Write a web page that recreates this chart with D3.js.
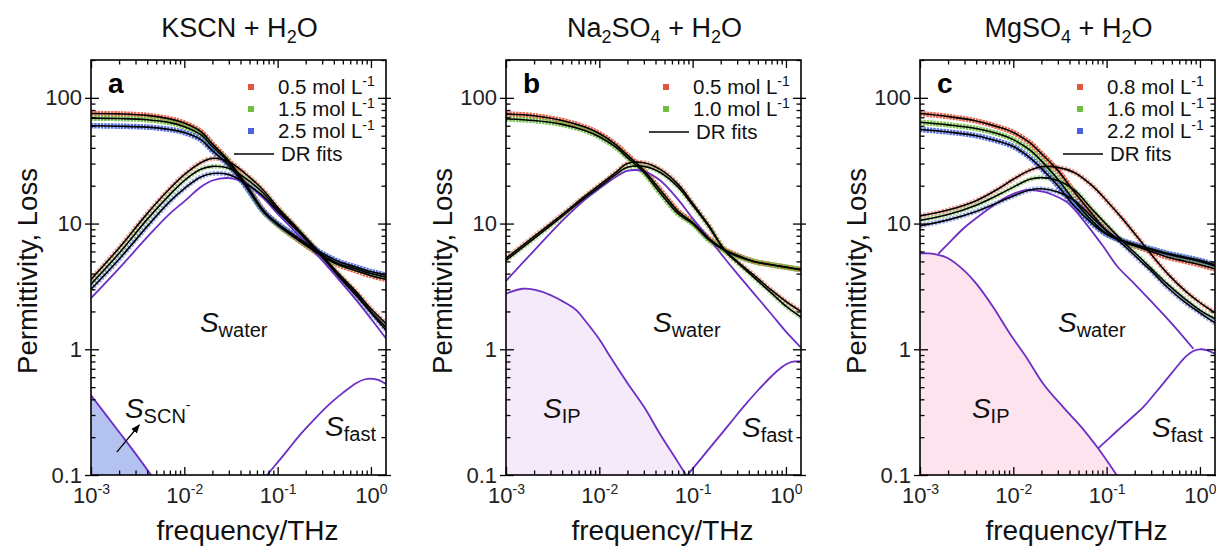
<!DOCTYPE html>
<html><head><meta charset="utf-8">
<script src="https://cdn.jsdelivr.net/npm/d3@7"></script>
<style>
body{margin:0;background:#fff;}
svg{display:block;font-family:"Liberation Sans",Arial,Helvetica,sans-serif;}
</style></head><body>
<svg id="c" width="1216" height="547"></svg>
<script>
// ---------------- DATA ----------------
const freq = [0.001, 0.002, 0.004, 0.007, 0.01, 0.015, 0.02, 0.03, 0.045, 0.07, 0.1, 0.15, 0.22, 0.3, 0.45, 0.7, 1.0, 1.45];

// (a) KSCN + H2O
const kscnLabels = ["0.5 mol L", "1.5 mol L", "2.5 mol L"];
const kscnPerm05 = [75, 74.5, 72.5, 68, 63, 54, 43, 31.5, 21, 12.8, 9.8, 7.8, 6.4, 5.5, 4.7, 4.2, 3.85, 3.6];
const kscnPerm15 = [69, 68.5, 67, 63.5, 59, 51, 41, 30.5, 20.5, 12.5, 9.8, 7.9, 6.5, 5.6, 4.8, 4.35, 4.0, 3.75];
const kscnPerm25 = [60, 59.5, 58.5, 56, 53, 46.5, 38, 29, 20, 12.6, 10, 8.1, 6.7, 5.8, 5.0, 4.5, 4.15, 3.9];
const kscnLoss05 = [3.6, 6.4, 12, 19, 24.5, 30.5, 33, 31, 25, 18.5, 13.5, 9.8, 7.2, 5.6, 4.0, 2.85, 2.1, 1.6];
const kscnLoss15 = [3.3, 5.8, 10.8, 17, 22, 27, 28.5, 27.5, 23, 17.5, 13, 9.6, 7.1, 5.5, 3.9, 2.75, 2.0, 1.5];
const kscnLoss25 = [3.0, 5.2, 9.5, 15, 19, 23.5, 25, 24.5, 21, 16.5, 12.5, 9.3, 6.9, 5.4, 3.8, 2.65, 1.95, 1.42];
const kscnWater = [2.55, 4.4, 7.8, 12, 15, 19.5, 22, 23, 21, 16, 12, 8.8, 6.5, 5.1, 3.6, 2.45, 1.75, 1.22];
const kscnScnFreq = [0.001, 0.002, 0.003, 0.0044];
const kscnScnVals = [0.43, 0.22, 0.148, 0.1];
const kscnFastFreq = [0.077, 0.1, 0.13, 0.18, 0.25, 0.35, 0.5, 0.7, 0.85, 1.0, 1.2, 1.45];
const kscnFastVals = [0.1, 0.126, 0.16, 0.215, 0.28, 0.36, 0.45, 0.54, 0.575, 0.585, 0.57, 0.53];

// (b) Na2SO4 + H2O
const naLabels = ["0.5 mol L", "1.0 mol L"];
const naPerm05 = [74.5, 72, 66, 58.5, 52, 42.5, 35, 26.5, 18.5, 12.5, 10.2, 7.6, 6.2, 5.6, 5.0, 4.7, 4.5, 4.3];
const naPerm10 = [68, 66, 61.5, 55, 49, 40.5, 33.5, 25.5, 17.5, 12, 10, 7.4, 6.1, 5.5, 5.0, 4.7, 4.5, 4.3];
const naLoss05 = [5.3, 7.9, 11.8, 16.5, 20.2, 25.5, 30, 30.5, 27, 20.5, 14.5, 9.6, 6.2, 5.0, 3.9, 2.95, 2.4, 2.0];
const naLoss10 = [5.1, 7.6, 11.4, 16, 19.5, 24.5, 28, 28.5, 25.5, 19.5, 14, 9.4, 6.1, 4.9, 3.75, 2.8, 2.2, 1.8];
const naWater = [3.5, 6.1, 10.5, 15.5, 19, 23.5, 26.3, 26, 22, 15.5, 11, 7.6, 5.3, 4.0, 2.8, 1.9, 1.38, 1.03];
const naIPFreq = [0.001, 0.0015, 0.002, 0.003, 0.0045, 0.0057, 0.007, 0.01, 0.013, 0.02, 0.03, 0.045, 0.065, 0.085];
const naIPVals = [2.77, 3.03, 2.98, 2.7, 2.3, 2.04, 1.7, 1.2, 0.88, 0.54, 0.35, 0.21, 0.137, 0.1];
const naFastFreq = [0.088, 0.12, 0.17, 0.25, 0.35, 0.5, 0.7, 0.9, 1.1, 1.25, 1.45];
const naFastVals = [0.1, 0.132, 0.181, 0.256, 0.348, 0.47, 0.61, 0.72, 0.785, 0.8, 0.8];

// (c) MgSO4 + H2O
const mgLabels = ["0.8 mol L", "1.6 mol L", "2.2 mol L"];
const mgPerm08 = [75, 71, 65.5, 58.5, 53, 44, 36, 26.5, 17.8, 11.9, 8.8, 7.2, 6.5, 6.0, 5.4, 5.0, 4.7, 4.35];
const mgPerm16 = [64, 61, 57, 51.5, 46.5, 38.5, 31.5, 22.5, 15.2, 10.5, 8.3, 7.2, 6.6, 6.2, 5.7, 5.3, 5.0, 4.6];
const mgPerm22 = [56, 53.5, 50, 45, 41, 33.5, 27.5, 20, 13.8, 10, 8.2, 7.3, 6.7, 6.3, 5.8, 5.4, 5.1, 4.7];
const mgLoss08 = [11.5, 12.8, 15.2, 19, 22.5, 26.5, 28.3, 28, 25.5, 20, 15.2, 10.8, 7.6, 5.7, 4.0, 2.9, 2.35, 1.95];
const mgLoss16 = [10.6, 11.8, 14, 17, 19.5, 22.5, 23.2, 22, 18.5, 13, 9.8, 7.2, 5.5, 4.4, 3.3, 2.5, 2.05, 1.75];
const mgLoss22 = [9.6, 10.7, 12.5, 14.8, 16.6, 18.5, 18.9, 17.8, 15.3, 11.2, 8.7, 6.8, 5.2, 4.2, 3.1, 2.35, 1.95, 1.62];
const mgWaterFreq = [0.00157, 0.002, 0.003, 0.005, 0.0073, 0.01, 0.014, 0.02, 0.025, 0.0375, 0.06, 0.093, 0.129, 0.2, 0.294, 0.5, 0.85];
const mgWaterVals = [5.75, 6.9, 9.3, 12.5, 15.2, 17.2, 18.5, 18, 17.2, 14.8, 10, 6.5, 4.6, 3.3, 2.45, 1.6, 1.01];
const mgIPFreq = [0.001, 0.0012, 0.0014, 0.002, 0.003, 0.00405, 0.006, 0.0092, 0.014, 0.021, 0.035, 0.055, 0.081, 0.128];
const mgIPVals = [5.8, 5.8, 5.75, 5.3, 4.2, 3.3, 2.2, 1.33, 0.85, 0.53, 0.34, 0.235, 0.163, 0.1];
const mgFastFreq = [0.081, 0.12, 0.17, 0.248, 0.35, 0.45, 0.56, 0.7, 0.85, 1.0, 1.2, 1.45];
const mgFastVals = [0.163, 0.213, 0.269, 0.348, 0.47, 0.59, 0.72, 0.87, 0.97, 1.0, 0.98, 0.92];

// axes
const xDomain = [0.001, 1.45];
const yDomain = [0.1, 200];
const xMajor = [0.001, 0.01, 0.1, 1];
const xMajorExp = ["-3", "-2", "-1", "0"];
const xMinor = [0.002,0.003,0.004,0.005,0.006,0.007,0.008,0.009,0.02,0.03,0.04,0.05,0.06,0.07,0.08,0.09,0.2,0.3,0.4,0.5,0.6,0.7,0.8,0.9];
const yMajor = [0.1, 1, 10, 100];
const yMajorLabels = ["0.1", "1", "10", "100"];
const yMinor = [0.2,0.3,0.4,0.5,0.6,0.7,0.8,0.9,2,3,4,5,6,7,8,9,20,30,40,50,60,70,80,90,200];

// annotation anchors (frequency, value) for component labels
const annoFreqA = [0.0147, 0.00231, 0.322];
const annoValA = [1.37, 0.284, 0.204];
const annoFreqB = [0.0376, 0.00249, 0.338];
const annoValB = [1.37, 0.284, 0.2];
const annoFreqC = [0.0301, 0.0036, 0.306];
const annoValC = [1.37, 0.284, 0.2];
const arrowFreq = [0.00189, 0.00329];
const arrowVal = [0.152, 0.25];

// ---------------- STYLE / LAYOUT ----------------
const RED = "#e2553b", GREEN = "#70bf45", BLUE = "#4a64d8", PURPLE = "#6d2ec6", BLACK = "#000";
const TOP = 60, PW = 295, PH = 415;
const svg = d3.select("#c");
const defs = svg.append("defs");
defs.append("marker").attr("id","arrowhead").attr("viewBox","0 0 10 10").attr("refX",9).attr("refY",5)
  .attr("markerWidth",7).attr("markerHeight",7).attr("orient","auto")
  .append("path").attr("d","M0,1 L10,5 L0,9 Z").attr("fill","#000");

const panels = [
  { left: 91, letter: "a", title: [["KSCN + H",0],["2",1],["O",0]],
    series: [
      {perm: kscnPerm05, loss: kscnLoss05, color: RED, label: kscnLabels[0]},
      {perm: kscnPerm15, loss: kscnLoss15, color: GREEN, label: kscnLabels[1]},
      {perm: kscnPerm25, loss: kscnLoss25, color: BLUE, label: kscnLabels[2]}],
    fills: [{f: kscnScnFreq, v: kscnScnVals, fill: "#b4c2f2"}],
    comps: [{f: freq, v: kscnWater}, {f: kscnFastFreq, v: kscnFastVals}, {f: kscnScnFreq, v: kscnScnVals}],
    anno: [{s:"water"}, {s:"SCN", sup:"-"}, {s:"fast"}], annoF: annoFreqA, annoV: annoValA, arrow: true },
  { left: 506, letter: "b", title: [["Na",0],["2",1],["SO",0],["4",1],[" + H",0],["2",1],["O",0]],
    series: [
      {perm: naPerm05, loss: naLoss05, color: RED, label: naLabels[0]},
      {perm: naPerm10, loss: naLoss10, color: GREEN, label: naLabels[1]}],
    fills: [{f: naIPFreq, v: naIPVals, fill: "#f5eafa"}],
    comps: [{f: freq, v: naWater}, {f: naFastFreq, v: naFastVals}, {f: naIPFreq, v: naIPVals}],
    anno: [{s:"water"}, {s:"IP"}, {s:"fast"}], annoF: annoFreqB, annoV: annoValB, arrow: false },
  { left: 920, letter: "c", title: [["MgSO",0],["4",1],[" + H",0],["2",1],["O",0]],
    series: [
      {perm: mgPerm08, loss: mgLoss08, color: RED, label: mgLabels[0]},
      {perm: mgPerm16, loss: mgLoss16, color: GREEN, label: mgLabels[1]},
      {perm: mgPerm22, loss: mgLoss22, color: BLUE, label: mgLabels[2]}],
    fills: [{f: mgIPFreq, v: mgIPVals, fill: "#fce3ee"}],
    comps: [{f: mgWaterFreq, v: mgWaterVals}, {f: mgFastFreq, v: mgFastVals}, {f: mgIPFreq, v: mgIPVals}],
    anno: [{s:"water"}, {s:"IP"}, {s:"fast"}], annoF: annoFreqC, annoV: annoValC, arrow: false }
];

panels.forEach(drawPanel);

function drawPanel(p) {
  const x = d3.scaleLog().domain(xDomain).range([0, PW]);
  const y = d3.scaleLog().domain(yDomain).range([PH, 0]);
  const g = svg.append("g").attr("transform", `translate(${p.left},${TOP})`);
  const clipId = "clip-" + p.letter;
  defs.append("clipPath").attr("id", clipId).append("rect").attr("width", PW).attr("height", PH);
  const plot = g.append("g").attr("clip-path", `url(#${clipId})`);

  const curve = d3.curveCatmullRom.alpha(0.5);
  const line = d3.line().x(d => x(d[0])).y(d => y(d[1])).curve(curve);
  const area = d3.area().x(d => x(d[0])).y0(PH).y1(d => y(d[1])).curve(curve);

  p.fills.forEach(c => plot.append("path").datum(d3.zip(c.f, c.v)).attr("d", area).attr("fill", c.fill));

  // measured data (thick coloured bands)
  p.series.forEach(s => {
    plot.append("path").datum(d3.zip(freq, s.loss)).attr("d", line).attr("fill", "none")
      .attr("stroke", s.color).attr("stroke-width", 5).attr("stroke-opacity", 0.55).attr("stroke-dasharray", "2.5 1.2");
    plot.append("path").datum(d3.zip(freq, s.perm)).attr("d", line).attr("fill", "none")
      .attr("stroke", s.color).attr("stroke-width", 5.5).attr("stroke-opacity", 0.9).attr("stroke-dasharray", "2.5 0.8");
  });
  // component curves
  p.comps.forEach(c => plot.append("path").datum(d3.zip(c.f, c.v)).attr("d", line).attr("fill", "none")
    .attr("stroke", PURPLE).attr("stroke-width", 1.8));
  // DR fits
  p.series.forEach(s => {
    [s.perm, s.loss].forEach(arr => plot.append("path").datum(d3.zip(freq, arr)).attr("d", line)
      .attr("fill", "none").attr("stroke", BLACK).attr("stroke-width", 1.6));
  });

  // frame + ticks
  g.append("rect").attr("width", PW).attr("height", PH).attr("fill", "none").attr("stroke", "#000").attr("stroke-width", 1.6);
  const ax = (gen, tr, vals, size) => {
    g.append("g").attr("transform", tr).call(gen.tickValues(vals).tickSize(size).tickFormat(""))
      .call(s => s.select(".domain").remove())
      .selectAll("line").attr("stroke", "#000").attr("stroke-width", 1.3);
  };
  ax(d3.axisBottom(x), `translate(0,${PH})`, xMajor, -8);
  ax(d3.axisBottom(x), `translate(0,${PH})`, xMinor, -4.5);
  ax(d3.axisTop(x), `translate(0,0)`, xMajor, -8);
  ax(d3.axisTop(x), `translate(0,0)`, xMinor, -4.5);
  ax(d3.axisLeft(y), `translate(0,0)`, yMajor, -8);
  ax(d3.axisLeft(y), `translate(0,0)`, yMajor, 6);
  ax(d3.axisLeft(y), `translate(0,0)`, yMinor, -4.5);
  ax(d3.axisRight(y), `translate(${PW},0)`, yMajor, -8);
  ax(d3.axisRight(y), `translate(${PW},0)`, yMajor, 5);
  ax(d3.axisRight(y), `translate(${PW},0)`, yMinor, -4.5);

  // y tick labels
  g.append("g").call(d3.axisLeft(y).tickValues(yMajor).tickSize(0).tickPadding(9)
      .tickFormat((d, i) => yMajorLabels[i]))
    .call(s => s.select(".domain").remove())
    .attr("font-size", 22).attr("font-family", null)
    .selectAll("text").attr("fill", "#222");
  // x tick labels
  g.append("g").attr("transform", `translate(0,${PH})`)
    .call(d3.axisBottom(x).tickValues(xMajor).tickSize(0).tickPadding(12).tickFormat(""))
    .call(s => s.select(".domain").remove())
    .attr("font-size", 22).attr("font-family", null)
    .selectAll("text").attr("fill", "#222").each(function(d, i) {
      const t = d3.select(this);
      t.append("tspan").text("10");
      t.append("tspan").attr("dy", -9).attr("font-size", 14).text(xMajorExp[i]);
    });

  // title
  const title = svg.append("text").attr("x", p.left + PW / 2 + 1).attr("y", 37)
    .attr("text-anchor", "middle").attr("font-size", 27).attr("fill", "#111");
  let prevSub = 0;
  p.title.forEach(([txt, sub]) => {
    const dy = (sub - prevSub) * 6;
    title.append("tspan").attr("dy", dy).attr("font-size", sub ? 18 : 27).text(txt);
    prevSub = sub;
  });

  // axis titles
  svg.append("text").attr("transform", `translate(${p.left - 54},${TOP + 211}) rotate(-90)`)
    .attr("text-anchor", "middle").attr("font-size", 27.5).attr("fill", "#111").text("Permittivity, Loss");
  svg.append("text").attr("x", p.left + PW / 2 + 9).attr("y", 540)
    .attr("text-anchor", "middle").attr("font-size", 28).attr("fill", "#111").text("frequency/THz");

  // panel letter
  g.append("text").attr("x", 17).attr("y", 33).attr("font-size", 28).attr("font-weight", "bold").text(p.letter);

  // legend
  const lg = g.append("g").attr("font-size", 20.5).attr("fill", "#111");
  p.series.forEach((s, i) => {
    const yy = 27 + i * 22;
    lg.append("rect").attr("x", PW - 138).attr("y", yy - 3).attr("width", 6).attr("height", 6).attr("fill", s.color);
    const t = lg.append("text").attr("x", PW - 108).attr("y", yy + 7);
    t.append("tspan").text(s.label);
    t.append("tspan").attr("dy", -8).attr("font-size", 14).text("-1");
  });
  const dy = 27 + p.series.length * 22 + 1;
  lg.append("line").attr("x1", PW - 152).attr("x2", PW - 112).attr("y1", dy).attr("y2", dy).attr("stroke", "#000").attr("stroke-width", 1.6);
  lg.append("text").attr("x", PW - 105).attr("y", dy + 7).text("DR fits");

  // component annotations
  p.anno.forEach((a, i) => {
    const t = g.append("text").attr("x", x(p.annoF[i])).attr("y", y(p.annoV[i])).attr("fill", "#111");
    t.append("tspan").attr("font-style", "italic").attr("font-size", 28).text("S");
    t.append("tspan").attr("font-size", 20).attr("dy", 5).text(a.s);
    if (a.sup) t.append("tspan").attr("font-size", 14).attr("dy", -13).text(a.sup);
  });
  if (p.arrow) {
    g.append("line").attr("x1", x(arrowFreq[0])).attr("y1", y(arrowVal[0]))
      .attr("x2", x(arrowFreq[1])).attr("y2", y(arrowVal[1]))
      .attr("stroke", "#000").attr("stroke-width", 1.3).attr("marker-end", "url(#arrowhead)");
  }
}
</script>
</body></html>
